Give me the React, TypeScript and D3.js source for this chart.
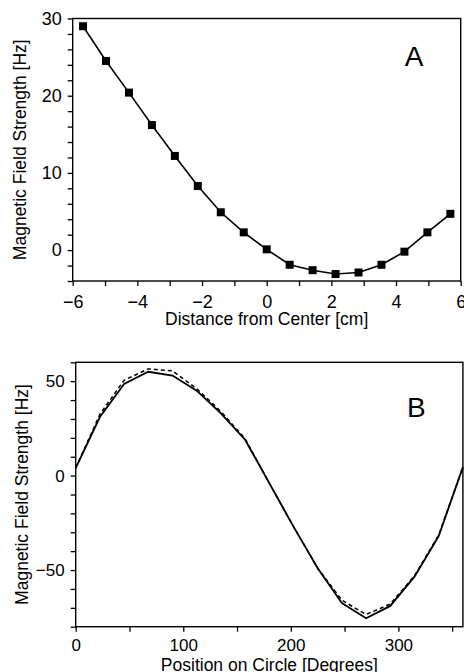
import React, { useEffect, useRef } from "react";
import * as d3 from "d3";

// panel A: field along a line through the centre
const distA = [-5.68, -4.97, -4.26, -3.55, -2.84, -2.13, -1.42, -0.71, 0, 0.71, 1.42, 2.13, 2.84, 3.55, 4.26, 4.97, 5.68];
const fieldA = [29.0, 24.5, 20.4, 16.2, 12.2, 8.3, 4.9, 2.3, 0.1, -1.9, -2.6, -3.1, -2.9, -1.9, -0.2, 2.3, 4.7];

// panel B: field around the circle, measured (solid) and fitted (dashed)
const angleB = [0, 22.5, 45, 67.5, 90, 112.5, 135, 157.5, 180, 202.5, 225, 247.5, 270, 292.5, 315, 337.5, 360];
const solidB = [4, 31, 48.5, 55, 53, 45, 33, 19, -4, -27, -49, -67.5, -75.5, -69, -53.5, -32, 4.5];
const dashedB = [4, 32.5, 50.5, 56.5, 55.5, 46, 34, 19.5, -4, -27, -49, -66, -73.5, -68, -53, -31.5, 4.5];

const yTicksA = d3.range(-4, 31, 2);
const xTicksA = d3.range(-6, 7, 1);
const yTicksB = d3.range(-80, 61, 10);
const xTicksB = d3.range(0, 361, 50);

const W = 464;
const H = 672;
const FONT = "'Liberation Sans', Arial, Helvetica, sans-serif";

export default function App() {
  const ref = useRef<SVGSVGElement>(null);

  useEffect(() => {
    const svg = d3.select(ref.current);
    svg.selectAll("*").remove();
    const fmt = (d: number) => d3.format("d")(d);

    function panel(opts: any) {
      const { x, y, xTicks, yTicks, xMajor, yMajor, xTitle, yTitle, letter,
        yTitleX, letterY, xTitleDy, tickFont, xPad } = opts;
      const [x0, x1] = x.range();
      const [y0, y1] = y.range();
      const g = svg.append("g");

      // frame
      g.append("rect")
        .attr("x", x0).attr("y", y1)
        .attr("width", x1 - x0).attr("height", y0 - y1)
        .attr("fill", "none").attr("stroke", "#000").attr("stroke-width", 1.4);

      const ya = g.append("g").attr("transform", `translate(${x0},0)`)
        .call(d3.axisLeft(y).tickValues(yTicks).tickSize(5).tickPadding(6)
          .tickFormat((d: any) => (d % yMajor === 0 ? fmt(d) : "")));
      const xa = g.append("g").attr("transform", `translate(0,${y0})`)
        .call(d3.axisBottom(x).tickValues(xTicks).tickSize(5).tickPadding(xPad)
          .tickFormat((d: any) => (d % xMajor === 0 ? fmt(d) : "")));
      [ya, xa].forEach(a => {
        a.select(".domain").remove();
        a.selectAll("line").attr("stroke", "#000").attr("stroke-width", 1.3);
        a.selectAll("text").attr("fill", "#000").style("font-family", FONT).style("font-size", tickFont);
      });

      g.append("text")
        .attr("x", (x0 + x1) / 2).attr("y", y0 + xTitleDy)
        .attr("text-anchor", "middle")
        .style("font-family", FONT).style("font-size", "17.5px")
        .text(xTitle);
      g.append("text")
        .attr("transform", `translate(${yTitleX},${(y0 + y1) / 2}) rotate(-90)`)
        .attr("text-anchor", "middle")
        .style("font-family", FONT).style("font-size", "17.5px")
        .text(yTitle);
      g.append("text")
        .attr("x", x0 + (x1 - x0) * 0.88).attr("y", letterY)
        .attr("text-anchor", "middle")
        .style("font-family", FONT).style("font-size", "28px")
        .text(letter);
      return g;
    }

    // ---- Panel A
    const xA = d3.scaleLinear().domain([-6, 6]).range([72.7, 460.7]);
    const yA = d3.scaleLinear().domain([-4, 30]).range([281, 18.5]);
    const gA = panel({
      x: xA, y: yA, xTicks: xTicksA, yTicks: yTicksA, xMajor: 2, yMajor: 10,
      xTitle: "Distance from Center [cm]", yTitle: "Magnetic Field Strength [Hz]",
      letter: "A", yTitleX: 26, letterY: 66, xTitleDy: 44, tickFont: "18px", xPad: 9,
    });
    const ptsA = distA.map((d, i) => [d, fieldA[i]] as [number, number]);
    const lineA = d3.line<[number, number]>().x(d => xA(d[0])).y(d => yA(d[1]));
    gA.append("path").attr("d", lineA(ptsA)).attr("fill", "none")
      .attr("stroke", "#000").attr("stroke-width", 1.6);
    gA.selectAll("rect.pt").data(ptsA).enter().append("rect")
      .attr("class", "pt")
      .attr("x", d => xA(d[0]) - 4).attr("y", d => yA(d[1]) - 4)
      .attr("width", 8).attr("height", 8).attr("fill", "#000");

    // ---- Panel B
    const xB = d3.scaleLinear().domain([0, 360]).range([75.7, 462.9]);
    const yB = d3.scaleLinear().domain([-80, 60]).range([626.7, 362.3]);
    const gB = panel({
      x: xB, y: yB, xTicks: xTicksB, yTicks: yTicksB, xMajor: 100, yMajor: 50,
      xTitle: "Position on Circle [Degrees]", yTitle: "Magnetic Field Strength [Hz]",
      letter: "B", yTitleX: 28, letterY: 417, xTitleDy: 44.5, tickFont: "17px", xPad: 7,
    });
    const lineB = d3.line<number>().x((d, i) => xB(angleB[i])).y(d => yB(d));
    gB.append("path").attr("d", lineB(dashedB)).attr("fill", "none")
      .attr("stroke", "#000").attr("stroke-width", 1.5).attr("stroke-dasharray", "4,3");
    gB.append("path").attr("d", lineB(solidB)).attr("fill", "none")
      .attr("stroke", "#000").attr("stroke-width", 1.8);
  }, []);

  return (
    <svg ref={ref} width={W} height={H}
      style={{ position: "absolute", left: 0, top: 0, background: "#fff" }} />
  );
}
